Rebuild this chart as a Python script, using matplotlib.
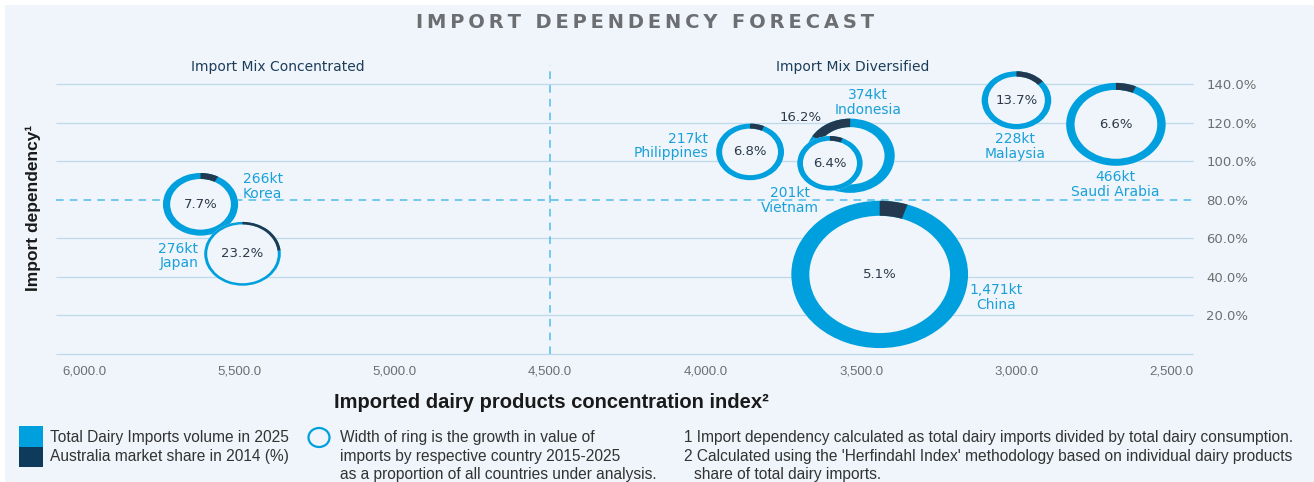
import numpy as np
import matplotlib.pyplot as plt
from matplotlib.patches import Wedge, Circle, Rectangle, Ellipse
from matplotlib.transforms import Affine2D, ScaledTranslation

# data
countries = ['China', 'Saudi Arabia', 'Indonesia', 'Korea', 'Japan',
             'Malaysia', 'Philippines', 'Vietnam']
concentration = [3440, 2680, 3535, 5625, 5490, 3000, 3857, 3600]   # index
dependency = [41.3, 119.2, 102.9, 77.7, 52.0, 131.7, 104.9, 99.0]   # %
volume_kt = [1471, 466, 374, 266, 276, 228, 217, 201]
aus_share = [5.1, 6.6, 16.2, 7.7, 23.2, 13.7, 6.8, 6.4]             # %
growth = [15, 7, 8.5, 6, 2.5, 5.3, 5, 4.7]                          # ring width

x_ticks = [6000, 5500, 5000, 4500, 4000, 3500, 3000, 2500]
y_ticks = [20, 40, 60, 80, 100, 120, 140]

# layout of the labels (offsets in pixels from ring centre)
name_off = {'China': (116, -23, 'center'), 'Saudi Arabia': (-1, -60, 'center'),
            'Indonesia': (18, 53, 'center'), 'Korea': (42, 18, 'left'),
            'Japan': (-44, -2, 'right'), 'Malaysia': (-1, -46, 'center'),
            'Philippines': (-42, 6, 'right'), 'Vietnam': (-40, -37, 'center')}
pct_off = {'Indonesia': (-50, 38)}
ccw = {'Indonesia'}

W, H = 1314, 482
BG = '#EFF5FA'
GRID = '#BFD8EC'
DASH = '#4FBDEB'
BLUE = '#009FDD'
NAVY = '#22394F'
LBLUE = '#1AA0DA'
PCTC = '#2D3A4A'
GREY = '#6D6E71'
QNAVY = '#1C3D5A'

fig = plt.figure(figsize=(W / 100, H / 100), dpi=100)
fig.patch.set_facecolor('white')
fig.patches.append(Rectangle((5 / W, 0), 1, 1 - 5 / H, transform=fig.transFigure,
                             facecolor=BG, edgecolor='none', zorder=-10))

ax = fig.add_axes([56 / W, 1 - 354 / H, 1137 / W, 289 / H])
ax.set_facecolor('none')
for s in ax.spines.values():
    s.set_visible(False)

x0, x1 = 6090, 2432
ax.hlines([0] + [v for v in y_ticks if v != 80], x0, x1, color=GRID, lw=0.9,
          zorder=0, clip_on=False)
ax.axhline(80, color=DASH, lw=1.1, dashes=(5, 4), zorder=0.5)
ax.axvline(4500, color=DASH, lw=1.1, dashes=(5, 4), zorder=0.5)

# rings
STRETCH = 1.2
K = 1.92


def px_trans(x, y):
    return (Affine2D().scale(STRETCH / 100, 1 / 100) + fig.dpi_scale_trans
            + ScaledTranslation(x, y, ax.transData))


for i, c in enumerate(countries):
    x, y = concentration[i], dependency[i]
    t = px_trans(x, y)
    r = K * np.sqrt(volume_kt[i])
    w = growth[i]
    z = 2 + i * 0.1
    ax.add_patch(Circle((0, 0), r, transform=t, fc=BG, ec='none', zorder=z, clip_on=False))
    ax.add_patch(Wedge((0, 0), r, 0, 360, width=w, transform=t, fc=BLUE, ec='none',
                       zorder=z, clip_on=False))
    span = aus_share[i] * 3.6
    t1, t2 = (90, 90 + span) if c in ccw else (90 - span, 90)
    ax.add_patch(Wedge((0, 0), r, t1, t2, width=w, transform=t, fc=NAVY, ec='none',
                       zorder=z, clip_on=False))

    dx, dy, ha = name_off[c]
    ax.annotate(f'{volume_kt[i]:,}kt\n{c}', xy=(x, y), xytext=(dx, dy),
                textcoords='offset pixels', ha=ha, va='center', color=LBLUE,
                fontsize=10, linespacing=1.05, zorder=5)
    px, py = pct_off.get(c, (0, 0))
    ax.annotate(f'{aus_share[i]}%', xy=(x, y), xytext=(px, py),
                textcoords='offset pixels', ha='center', va='center', color=PCTC,
                fontsize=9.5, zorder=5)

ax.set_xlim(x0, x1)
ax.set_ylim(0, 150)

ax.set_xticks(x_ticks)
ax.set_xticklabels([f'{v:,.1f}' for v in x_ticks], family='Liberation Sans')
ax.tick_params(axis='x', length=0, pad=8, labelsize=9.5, labelcolor=GREY)
ax.yaxis.tick_right()
ax.set_yticks(y_ticks)
ax.set_yticklabels([f'{v:.1f}%' for v in y_ticks])
ax.tick_params(axis='y', length=0, pad=9.5, labelsize=9.5, labelcolor=GREY)

# texts
fig.text(645 / W, 1 - 23 / H, '\u2009'.join('IMPORT DEPENDENCY FORECAST'),
         ha='center', va='center', fontsize=14, fontweight='bold', color=GREY)
fig.text(278 / W, 1 - 67 / H, 'Import Mix Concentrated', ha='center', va='center',
         fontsize=10, color=QNAVY)
fig.text(853 / W, 1 - 67 / H, 'Import Mix Diversified', ha='center', va='center',
         fontsize=10, color=QNAVY)
fig.text(33 / W, 1 - 208 / H, 'Import dependency\u00b9', rotation=90, ha='center',
         va='center', fontsize=12.5, fontweight='bold', family='Liberation Sans', color='#1A1A1A')
fig.text(551 / W, 1 - 402 / H, 'Imported dairy products concentration index\u00b2',
         ha='center', va='center', fontsize=14.5, fontweight='bold',
         family='Liberation Sans', color='#1A1A1A')

# legend
fig.patches.append(Rectangle((19 / W, 1 - 447 / H), 24 / W, 21 / H, transform=fig.transFigure,
                             facecolor=BLUE, edgecolor='none'))
fig.patches.append(Rectangle((19 / W, 1 - 467 / H), 24 / W, 20 / H, transform=fig.transFigure,
                             facecolor='#0E3A5C', edgecolor='none'))
fig.patches.append(Ellipse((319 / W, 1 - 437.5 / H), 21 / W, 19 / H, transform=fig.transFigure,
                           facecolor='none', edgecolor=BLUE, lw=1.6))
leg = dict(ha='left', va='center', fontsize=11.2, family='Liberation Sans', color='#333333')
fig.text(50 / W, 1 - 437.5 / H, 'Total Dairy Imports volume in 2025', **leg)
fig.text(50 / W, 1 - 457 / H, 'Australia market share in 2014 (%)', **leg)
fig.text(340 / W, 1 - 437.5 / H, 'Width of ring is the growth in value of', **leg)
fig.text(340 / W, 1 - 456 / H, 'imports by respective country 2015-2025', **leg)
fig.text(340 / W, 1 - 474.5 / H, 'as a proportion of all countries under analysis.', **leg)
fig.text(684 / W, 1 - 437.5 / H, '1 Import dependency calculated as total dairy imports '
         'divided by total dairy consumption.', **leg)
fig.text(684 / W, 1 - 456 / H, "2 Calculated using the 'Herfindahl Index' methodology "
         "based on individual dairy products", **leg)
fig.text(694 / W, 1 - 474.5 / H, 'share of total dairy imports.', **leg)

fig.savefig('out.png', dpi=100, facecolor=fig.get_facecolor())
